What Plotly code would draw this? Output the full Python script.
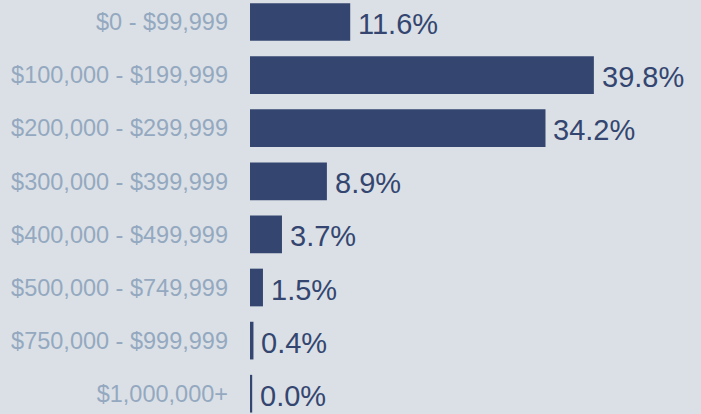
import plotly.graph_objects as go

categories = ["$0 - $99,999", "$100,000 - $199,999", "$200,000 - $299,999",
              "$300,000 - $399,999", "$400,000 - $499,999", "$500,000 - $749,999",
              "$750,000 - $999,999", "$1,000,000+"]
percents = [11.6, 39.8, 34.2, 8.9, 3.7, 1.5, 0.4, 0.0]

NAVY = "#34466f"
LABEL = "#94a9bf"
BG = "#dbe0e7"
FONT = "Liberation Sans, Arial, sans-serif"

W, H = 701, 414
ML = 250
px_per_pct = 8.64
xmax = (W - ML) / px_per_pct
min_vis = 2.2 / px_per_pct  # minimum visible stub for tiny values
shown = [max(v, min_vis) for v in percents]

row0, step = 22.0, 53.1
ytop = -row0 / step
ybot = (H - row0) / step

fig = go.Figure(go.Bar(
    x=shown, y=list(range(len(categories))), orientation="h",
    marker=dict(color=NAVY, line=dict(width=0)),
    hoverinfo="skip",
))

for i, v in enumerate(percents):
    fig.add_annotation(x=shown[i], y=i, xref="x", yref="y",
                       text=f"{v:.1f}%", showarrow=False,
                       xanchor="left", yanchor="middle", xshift=6, yshift=-2,
                       font=dict(family=FONT, size=29, color=NAVY))

fig.update_layout(
    width=W, height=H,
    margin=dict(l=ML, r=0, t=0, b=0, autoexpand=False),
    paper_bgcolor=BG, plot_bgcolor=BG,
    bargap=0.29, showlegend=False,
    xaxis=dict(range=[0, xmax], visible=False),
    yaxis=dict(range=[ybot, ytop], tickmode="array", automargin=False,
               tickvals=list(range(len(categories))), ticktext=categories,
               showgrid=False, zeroline=False, showline=False, ticks="",
               ticklabelstandoff=21,
               tickfont=dict(family=FONT, size=23.5, color=LABEL)),
)

fig.write_html("out.html", config={"displayModeBar": False},
               post_script="document.body.style.margin='0';")
